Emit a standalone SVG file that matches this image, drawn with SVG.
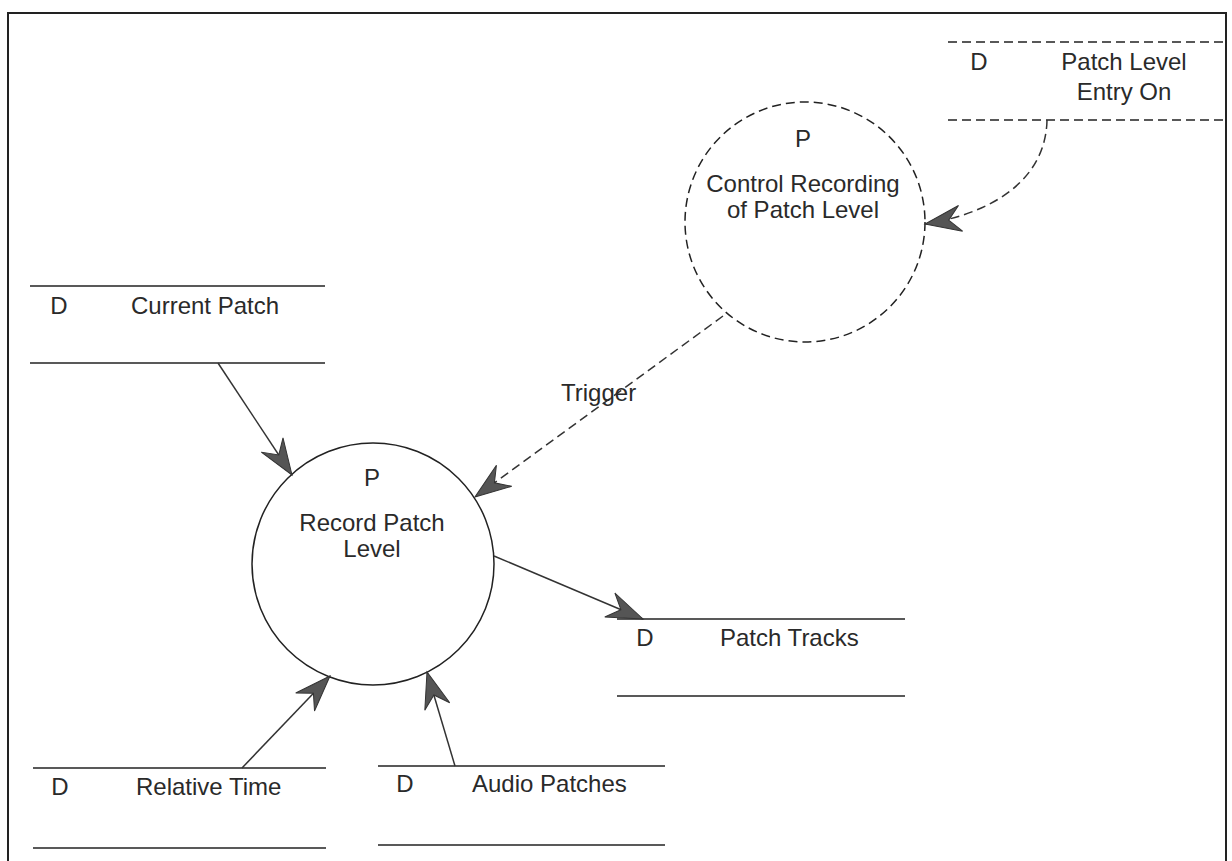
<svg xmlns="http://www.w3.org/2000/svg" width="1232" height="861" viewBox="0 0 1232 861">
  <style>
    .txt { font-family: "Liberation Sans", Arial, sans-serif; font-size: 24px; fill: #2a2a2a; }
    .mid { text-anchor: middle; }
    .store { stroke: #222; stroke-width: 1.5; fill: none; }
    .dash { stroke-dasharray: 9 5; }
    .proc { stroke: #222; stroke-width: 1.5; fill: #fff; }
    .flow { stroke: #333; stroke-width: 1.5; fill: none; marker-end: url(#head); }
  </style>
  <defs>
    <marker id="head" markerUnits="userSpaceOnUse" markerWidth="42" markerHeight="32" viewBox="-39 -16 42 32" refX="0" refY="0" orient="auto">
      <path d="M0,0 L-36,-13 L-24,0 L-36,13 Z" fill="#555" stroke="#333" stroke-width="1" stroke-linejoin="miter"/>
    </marker>
  </defs>

  <rect width="1232" height="861" fill="#fff"/>

  <!-- page frame, open at the bottom -->
  <path d="M8,870 L8,13 L1226,13 L1226,870" fill="none" stroke="#222" stroke-width="2"/>

  <!-- data store: Patch Level Entry On -->
  <g id="store-patch-level-entry-on">
    <line class="store dash" x1="948" y1="42" x2="1224" y2="42"/>
    <line class="store dash" x1="948" y1="120" x2="1224" y2="120"/>
    <text class="txt mid" x="979" y="70">D</text>
    <text class="txt mid" x="1124" y="70">Patch Level</text>
    <text class="txt mid" x="1124" y="100">Entry On</text>
  </g>

  <!-- control process -->
  <g id="proc-control-recording">
    <circle class="proc dash" cx="805" cy="222" r="120"/>
    <text class="txt mid" x="803" y="147">P</text>
    <text class="txt mid" x="803" y="192">Control Recording</text>
    <text class="txt mid" x="803" y="218">of Patch Level</text>
  </g>

  <!-- data store: Current Patch -->
  <g id="store-current-patch">
    <line class="store" x1="30" y1="286" x2="325" y2="286"/>
    <line class="store" x1="30" y1="363" x2="325" y2="363"/>
    <text class="txt mid" x="59" y="314">D</text>
    <text class="txt" x="131" y="314">Current Patch</text>
  </g>

  <!-- main process -->
  <g id="proc-record-patch-level">
    <circle class="proc" cx="373" cy="564" r="121"/>
    <text class="txt mid" x="372" y="486">P</text>
    <text class="txt mid" x="372" y="531">Record Patch</text>
    <text class="txt mid" x="372" y="557">Level</text>
  </g>

  <!-- data store: Patch Tracks -->
  <g id="store-patch-tracks">
    <line class="store" x1="617" y1="619" x2="905" y2="619"/>
    <line class="store" x1="617" y1="696" x2="905" y2="696"/>
    <text class="txt mid" x="645" y="646">D</text>
    <text class="txt" x="720" y="646">Patch Tracks</text>
  </g>

  <!-- data store: Relative Time -->
  <g id="store-relative-time">
    <line class="store" x1="33" y1="768" x2="326" y2="768"/>
    <line class="store" x1="33" y1="848" x2="326" y2="848"/>
    <text class="txt mid" x="60" y="795">D</text>
    <text class="txt" x="136" y="795">Relative Time</text>
  </g>

  <!-- data store: Audio Patches -->
  <g id="store-audio-patches">
    <line class="store" x1="378" y1="766" x2="665" y2="766"/>
    <line class="store" x1="378" y1="845" x2="665" y2="845"/>
    <text class="txt mid" x="405" y="792">D</text>
    <text class="txt" x="472" y="792">Audio Patches</text>
  </g>

  <!-- flows -->
  <g id="connectors">
    <path class="flow dash" d="M1047,120 C1046,175 1000,212 925,224"/>
    <line class="flow dash" x1="723" y1="316" x2="475" y2="497"/>
    <text class="txt" x="561" y="401">Trigger</text>
    <line class="flow" x1="218" y1="363" x2="292" y2="475"/>
    <line class="flow" x1="494" y1="556" x2="643" y2="619"/>
    <line class="flow" x1="242" y1="768" x2="330" y2="676"/>
    <line class="flow" x1="455" y1="766" x2="427" y2="672"/>
  </g>
</svg>
